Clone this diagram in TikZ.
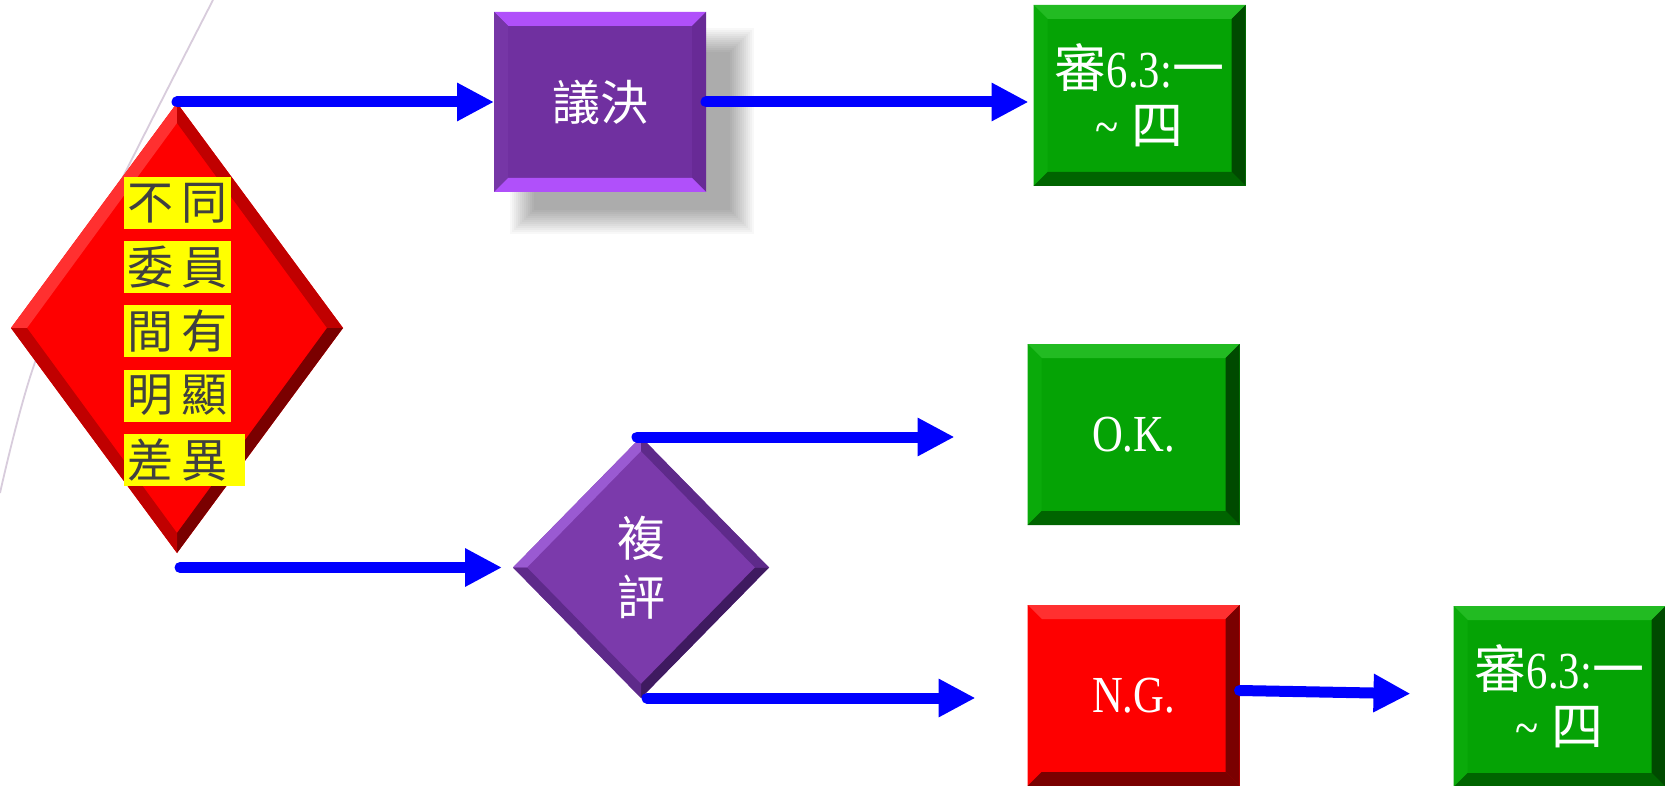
\documentclass[tikz,border=0pt]{standalone}
\usepackage{fontspec}
\setmainfont{Liberation Serif}
\newfontfamily\cjk{Noto Sans CJK TC}
\newfontfamily\lat[FakeStretch=0.82]{Liberation Serif}
\usetikzlibrary{shapes.geometric,arrows.meta,calc}
\definecolor{blue1}{HTML}{0000FF}
\definecolor{redm}{HTML}{FE0000}
\definecolor{redl}{HTML}{FF3030}
\definecolor{redd}{HTML}{C00000}
\definecolor{reddd}{HTML}{7A0000}
\definecolor{purm}{HTML}{7030A0}
\definecolor{purl}{HTML}{B050FA}
\definecolor{purs}{HTML}{7636A6}
\definecolor{purr}{HTML}{682A96}
\definecolor{pdm}{HTML}{7B3AAB}
\definecolor{pdl}{HTML}{9A5AD2}
\definecolor{pdd}{HTML}{5E2A8A}
\definecolor{pddd}{HTML}{3F1A60}
\definecolor{grm}{HTML}{05A305}
\definecolor{grl}{HTML}{22BB22}
\definecolor{grs}{HTML}{0AAA0A}
\definecolor{grd}{HTML}{006400}
\definecolor{grdd}{HTML}{004A00}
\definecolor{yel}{HTML}{FFFF00}
\definecolor{txtg}{HTML}{404040}
\definecolor{arcc}{HTML}{D8CCDC}
\newcommand\rbevel[6]{%
\fill[#3] (#1.north west) -- (#1.north east) -- ([shift={(-#2,-#2)}]#1.north east) -- ([shift={(#2,-#2)}]#1.north west) -- cycle;
\fill[#4] (#1.north west) -- ([shift={(#2,-#2)}]#1.north west) -- ([shift={(#2,#2)}]#1.south west) -- (#1.south west) -- cycle;
\fill[#5] (#1.north east) -- (#1.south east) -- ([shift={(-#2,#2)}]#1.south east) -- ([shift={(-#2,-#2)}]#1.north east) -- cycle;
\fill[#6] (#1.south west) -- ([shift={(#2,#2)}]#1.south west) -- ([shift={(-#2,#2)}]#1.south east) -- (#1.south east) -- cycle;}
\newcommand\dbevel[7]{%
\fill[#4] (#1.north) -- ([yshift=-#3]#1.north) -- ([xshift=#2]#1.west) -- (#1.west) -- cycle;
\fill[#5] (#1.north) -- (#1.east) -- ([xshift=-#2]#1.east) -- ([yshift=-#3]#1.north) -- cycle;
\fill[#6] (#1.east) -- (#1.south) -- ([yshift=#3]#1.south) -- ([xshift=-#2]#1.east) -- cycle;
\fill[#7] (#1.south) -- (#1.west) -- ([xshift=#2]#1.west) -- ([yshift=#3]#1.south) -- cycle;}
\begin{document}
\begin{tikzpicture}[x=1pt,y=-1pt,
  arr/.style={draw=blue1, line width=11pt, line cap=round, -{Triangle[length=37pt,width=36pt]}},
  box/.style={rectangle, inner sep=0pt, outer sep=0pt, align=center, text=white, minimum width=212pt, minimum height=181pt},
  dia/.style={diamond, inner sep=0pt, outer sep=0pt},
  hl/.style={fill=yel, inner sep=0pt, minimum height=52pt, minimum width=107pt, text=txtg, font=\cjk\fontsize{46}{52}\selectfont},
  cjkt/.style={font=\cjk\fontsize{48}{59}\selectfont},
  mixt/.style={font=\fontsize{52}{57}\selectfont},
]
\useasboundingbox (0,0) rectangle (1665,786);
\fill[white] (0,0) rectangle (1665,786);
% background arc
\draw[arcc, line width=1.8pt] plot[smooth] coordinates {(213,0) (117,189) (37,357) (0,493)};
% soft shadow of the purple box
\foreach \s in {0,2,...,24}
  \fill[black, opacity=0.027] (522+12-\s, 40+12-\s) rectangle (742-12+\s, 222-12+\s);
% nodes
\node[dia, fill=redm, minimum width=332pt, minimum height=450pt] (red) at (177,328) {};
\dbevel{red}{16pt}{20pt}{redl}{redd}{reddd}{redd}
\node[box, fill=purm, minimum height=180pt, cjkt] (pb) at (600,102) {議決};
\rbevel{pb}{14pt}{purl}{purs}{purr}{purl}
\node[box, fill=grm, mixt] (gt) at (1139.5,95.5) {{\cjk 審}{\lat 6.3:}{\cjk 一}\\{\lat\textasciitilde}\ {\cjk 四}};
\rbevel{gt}{14pt}{grl}{grs}{grdd}{grd}
\node[box, fill=grm, mixt] (ok) at (1133.5,434.5) {\lat O.K.};
\rbevel{ok}{14pt}{grl}{grs}{grdd}{grd}
\node[box, fill=redm, mixt] (ng) at (1133.5,695.5) {\lat N.G.};
\rbevel{ng}{14pt}{redl}{redm}{reddd}{reddd}
\node[box, fill=grm, mixt] (gb) at (1559.5,696.5) {{\cjk 審}{\lat 6.3:}{\cjk 一}\\{\lat\textasciitilde}\ {\cjk 四}};
\rbevel{gb}{14pt}{grl}{grs}{grdd}{grd}
\node[dia, fill=pdm, minimum width=256pt, minimum height=261pt] (pd) at (641,567.5) {};
\dbevel{pd}{14pt}{14pt}{pdl}{pdd}{pddd}{pdd}
\node[text=white, align=center, cjkt, inner sep=0pt] (pdt) at (pd.center) {複\\評};
% yellow highlighted rows
\node[hl] (r1) at (177.5,203) {不\hspace{8pt}同};
\node[hl] (r2) at (177.5,267.5) {委\hspace{8pt}員};
\node[hl] (r3) at (177.5,331) {間\hspace{8pt}有};
\node[hl] (r4) at (177.5,395.5) {明\hspace{8pt}顯};
\node[hl] (r5) at (177.5,460) {差\hspace{8pt}異};
\fill[yel] (r5.north east) rectangle ([xshift=14pt]r5.south east);
% connectors
\draw[arr] (red.north |- pb.west) -- (pb.west);
\draw[arr, shorten >=5pt] (pb.east) -- (pb.east -| gt.west);
\draw[arr, shorten >=11pt] ([xshift=3pt]red.south |- pd.west) -- (pd.west);
\draw[arr, shorten >=69pt] ([xshift=-4pt]pd.north) -- ([xshift=-4pt]pd.north -| ok.west);
\draw[arr, shorten >=58pt] ([xshift=6pt]pd.south) -- ([xshift=6pt]pd.south -| ng.west);
\draw[arr, shorten >=43pt] ([yshift=5pt]ng.east) -- ([yshift=2pt]gb.west);
\end{tikzpicture}
\end{document}
